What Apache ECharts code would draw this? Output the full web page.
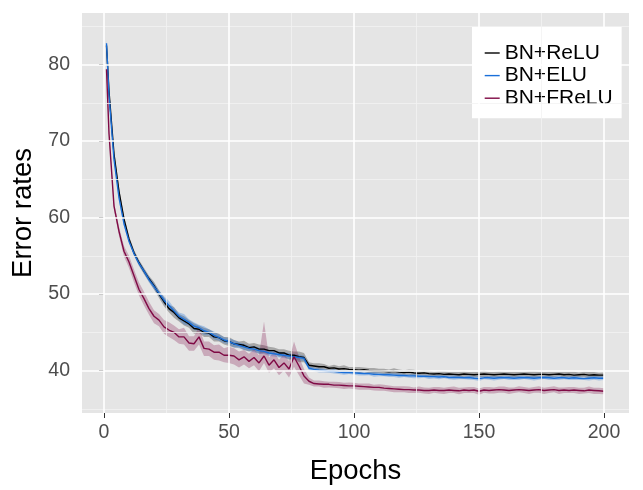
<!DOCTYPE html>
<html><head><meta charset="utf-8">
<script src="https://cdn.jsdelivr.net/npm/echarts@6.0.0/dist/echarts.min.js"></script>
<style>html,body{margin:0;padding:0;background:#fff}#c{width:643px;height:490px}</style>
</head><body><div id="c"></div>
<script>
const epochs = [1,2,4,6,8,10,12,14,16,18,
20,22,24,26,28,30,32,34,36,38,
40,42,44,46,48,50,52,54,56,58,
60,62,64,66,68,70,72,74,76,78,
80,82,84,86,88,90,92,94,96,98,
100,102,104,106,108,110,112,114,116,118,
120,122,124,126,128,130,132,134,136,138,
140,142,144,146,148,150,152,154,156,158,
160,162,164,166,168,170,172,174,176,178,
180,182,184,186,188,190,192,194,196,198,
200];

const relu = [82.5,76.5,68.3,63.4,59.8,57.2,55.4,54.1,53.0,52.0,
51.1,50.0,49.0,48.1,47.6,46.9,46.5,46.1,45.5,45.4,
45.0,44.9,44.4,44.3,43.9,43.8,43.5,43.4,43.3,43.0,
43.1,42.8,42.8,42.6,42.6,42.3,42.3,42.0,42.0,41.8,
41.7,40.7,40.6,40.5,40.5,40.3,40.35,40.2,40.25,40.15,
40.1,40.05,40.1,40.0,39.95,39.95,39.9,39.85,39.9,39.8,
39.75,39.8,39.7,39.65,39.7,39.6,39.55,39.6,39.5,39.55,
39.5,39.45,39.55,39.5,39.45,39.5,39.55,39.5,39.45,39.5,
39.55,39.5,39.45,39.5,39.55,39.5,39.45,39.5,39.5,39.45,
39.5,39.55,39.45,39.5,39.4,39.45,39.5,39.4,39.45,39.4,
39.4];

const elu = [82.8,76.0,67.6,62.6,59.2,56.9,55.3,54.0,53.0,51.9,
51.0,50.1,49.2,48.5,47.8,47.1,46.7,46.3,45.8,45.6,
45.2,45.0,44.6,44.3,44.0,43.8,43.5,43.3,43.1,42.9,
42.8,42.6,42.5,42.3,42.2,42.1,42.0,41.9,41.8,41.7,
41.6,40.3,40.15,40.05,40.0,39.9,39.9,39.8,39.75,39.75,
39.7,39.65,39.6,39.6,39.5,39.5,39.45,39.45,39.4,39.35,
39.35,39.3,39.3,39.25,39.25,39.2,39.2,39.15,39.2,39.1,
39.1,39.1,39.05,39.1,39.0,38.95,39.05,39.05,39.0,39.05,
39.1,39.05,39.0,39.05,39.1,39.05,39.0,39.05,39.1,39.05,
39.0,39.05,39.05,39.0,39.05,39.0,38.95,39.0,39.05,39.0,
39.0];

const frelu = [79.4,71.0,61.5,58.2,55.6,54.2,52.4,50.6,49.4,48.1,
47.1,46.6,45.7,45.3,45.0,44.4,44.4,43.6,43.5,44.4,
42.9,42.8,42.4,42.4,42.0,42.0,41.9,41.4,41.8,41.2,
41.7,41.0,41.9,40.7,41.4,40.4,41.0,40.2,41.8,40.6,
39.3,38.6,38.3,38.25,38.2,38.2,38.1,38.1,38.05,38.0,
38.0,37.95,37.9,37.85,37.8,37.8,37.7,37.65,37.6,37.55,
37.5,37.5,37.45,37.45,37.4,37.4,37.45,37.4,37.4,37.45,
37.4,37.35,37.45,37.4,37.45,37.3,37.45,37.4,37.45,37.5,
37.45,37.4,37.45,37.5,37.45,37.4,37.45,37.5,37.4,37.45,
37.5,37.4,37.45,37.4,37.45,37.4,37.35,37.45,37.4,37.35,
37.3];

// ribbon half-widths (above / below the mean)
const reluSpread = [0.5,0.6,0.5,0.5,0.4,0.4,0.4,0.4,0.4,0.4,
0.5,0.5,0.6,0.5,0.7,0.5,0.6,0.5,0.7,0.5,
0.6,0.5,0.6,0.5,0.5,0.6,0.5,0.4,0.6,0.5,
0.5,0.6,0.5,0.5,0.4,0.5,0.5,0.6,0.5,0.7,
0.6,0.4,0.35,0.45,0.35,0.3,0.4,0.35,0.45,0.3,
0.35,0.4,0.3,0.35,0.4,0.3,0.35,0.3,0.4,0.35,
0.3,0.35,0.4,0.3,0.35,0.4,0.3,0.35,0.45,0.3,
0.35,0.4,0.35,0.3,0.4,0.35,0.45,0.3,0.35,0.4,
0.3,0.35,0.4,0.35,0.3,0.4,0.45,0.35,0.3,0.4,
0.35,0.3,0.4,0.35,0.45,0.3,0.35,0.4,0.35,0.3,
0.35];

const eluSpread = [0.5,0.5,0.4,0.4,0.3,0.3,0.3,0.3,0.35,0.4,
0.4,0.4,0.5,0.6,0.4,0.5,0.7,0.4,0.5,0.4,
0.6,0.4,0.5,0.4,0.4,0.4,0.5,0.4,0.4,0.35,
0.4,0.4,0.35,0.4,0.35,0.4,0.35,0.4,0.35,0.4,
0.35,0.3,0.25,0.3,0.25,0.2,0.3,0.25,0.3,0.2,
0.25,0.3,0.25,0.2,0.3,0.25,0.2,0.3,0.25,0.3,
0.2,0.25,0.3,0.25,0.2,0.3,0.25,0.3,0.2,0.25,
0.3,0.25,0.2,0.3,0.25,0.3,0.2,0.25,0.3,0.25,
0.2,0.3,0.25,0.3,0.2,0.25,0.3,0.25,0.2,0.3,
0.25,0.3,0.2,0.25,0.3,0.25,0.2,0.3,0.25,0.3,
0.25];

const freluUp = [0.4,0.5,0.5,0.6,0.7,0.8,0.8,0.9,0.9,0.9,
0.8,0.8,0.9,1.0,0.9,1.0,1.2,0.9,1.0,1.3,
0.9,1.0,0.9,1.0,0.9,1.1,1.0,1.1,0.9,1.0,
1.1,1.0,4.5,1.0,1.1,1.0,1.2,1.0,2.0,1.2,
0.9,0.5,0.4,0.45,0.4,0.35,0.45,0.4,0.35,0.45,
0.4,0.35,0.4,0.45,0.35,0.4,0.45,0.4,0.35,0.4,
0.45,0.4,0.35,0.45,0.4,0.35,0.4,0.45,0.35,0.4,
0.5,0.4,0.35,0.45,0.4,0.35,0.4,0.45,0.35,0.4,
0.45,0.4,0.35,0.45,0.4,0.35,0.4,0.45,0.35,0.4,
0.45,0.4,0.35,0.45,0.4,0.35,0.4,0.45,0.35,0.4,
0.4];

const freluDown = [0.4,0.5,0.5,0.6,0.7,0.8,0.9,0.8,0.9,0.8,
0.9,0.8,0.9,0.9,1.0,0.9,1.0,1.0,0.9,1.0,
1.0,0.9,1.0,1.1,0.9,1.0,1.1,1.0,1.0,0.9,
1.0,1.1,0.9,1.0,1.1,1.0,1.0,1.1,1.3,1.2,
1.0,0.45,0.4,0.35,0.45,0.4,0.35,0.4,0.45,0.35,
0.4,0.45,0.4,0.35,0.4,0.45,0.35,0.4,0.45,0.4,
0.35,0.45,0.4,0.35,0.4,0.45,0.35,0.4,0.45,0.4,
0.35,0.45,0.4,0.35,0.4,0.45,0.35,0.4,0.45,0.4,
0.35,0.45,0.4,0.35,0.4,0.45,0.35,0.4,0.45,0.4,
0.35,0.45,0.4,0.35,0.4,0.45,0.35,0.4,0.45,0.4,
0.4];

const seriesNames = ['BN+ReLU','BN+ELU','BN+FReLU'];
const xTicks = [0,50,100,150,200];
const xMinor = [25,75,125,175];
const yTicks = [40,50,60,70,80];
const yMinor = [35,45,55,65,75,85];

const FONT = 'Liberation Sans, Arial, sans-serif';
const lineColors = ['#000000','#1a6fd9','#7f0a45'];
const bandColors = ['rgba(0,0,0,0.27)','rgba(26,111,217,0.30)','rgba(127,10,69,0.27)'];

const chart = echarts.init(document.getElementById('c'));

function band(vals, up, down, color) {
  return {
    type: 'custom', coordinateSystem: 'cartesian2d', silent: true, z: 2, clip: true,
    data: [[epochs[0], vals[0]]],
    renderItem: function (params, api) {
      const upper = epochs.map((e, i) => api.coord([e, vals[i] + up[i]]));
      const lower = epochs.map((e, i) => api.coord([e, vals[i] - down[i]])).reverse();
      return { type: 'polygon', shape: { points: upper.concat(lower) }, style: { fill: color } };
    }
  };
}
function line(name, vals, color) {
  return {
    type: 'line', name: name, data: epochs.map((e, i) => [e, vals[i]]),
    showSymbol: false, symbol: 'none', z: 3, color: color,
    lineStyle: { width: 1.4, color: color }, itemStyle: { color: color }
  };
}
const majorStyle = { color: '#ffffff', width: 1.6, type: 'solid' };
const minorStyle = { color: '#f2f2f2', width: 0.8, type: 'solid' };
const gridMarks = [].concat(
  xMinor.map(v => ({ xAxis: v, lineStyle: minorStyle })),
  yMinor.map(v => ({ yAxis: v, lineStyle: minorStyle })),
  xTicks.map(v => ({ xAxis: v, lineStyle: majorStyle })),
  yTicks.map(v => ({ yAxis: v, lineStyle: majorStyle }))
);

const axisCommon = {
  type: 'value', nameLocation: 'middle',
  axisLine: { show: false }, splitLine: { show: false },
  nameTextStyle: { fontSize: 27.5, color: '#000', fontFamily: FONT }
};

chart.setOption({
  animation: false,
  grid: { left: 82, top: 13, width: 547, height: 400, show: true, backgroundColor: '#e5e5e5', borderWidth: 0 },
  xAxis: Object.assign({}, axisCommon, {
    min: -8.8, max: 210, name: 'Epochs', nameGap: 44,
    axisTick: { show: true, customValues: xTicks, length: 5, lineStyle: { color: '#333', width: 1 } },
    axisLabel: { customValues: xTicks, fontSize: 19.5, color: '#4d4d4d', margin: 10, fontFamily: FONT }
  }),
  yAxis: Object.assign({}, axisCommon, {
    min: 34.45, max: 86.75, name: 'Error rates', nameGap: 45,
    axisTick: { show: true, customValues: yTicks, length: 5, lineStyle: { color: '#333', width: 1 } },
    axisLabel: { customValues: yTicks, fontSize: 19.5, color: '#4d4d4d', margin: 12, fontFamily: FONT }
  }),
  legend: {
    data: seriesNames, orient: 'vertical', left: 472, top: 27,
    backgroundColor: '#ffffff', padding: [15, 9, 9, 12],
    itemWidth: 15, itemHeight: 14, itemGap: 0.6,
    lineStyle: { width: 1.4 },
    itemStyle: { opacity: 0 },
    textStyle: { fontSize: 21, color: '#000', fontFamily: FONT, lineHeight: 22 }
  },
  series: [
    { type: 'line', data: [], silent: true, z: 1,
      markLine: { silent: true, symbol: 'none', animation: false, label: { show: false }, data: gridMarks } },
    band(relu, reluSpread, reluSpread, bandColors[0]),
    band(elu, eluSpread, eluSpread, bandColors[1]),
    band(frelu, freluUp, freluDown, bandColors[2]),
    line(seriesNames[0], relu, lineColors[0]),
    line(seriesNames[1], elu, lineColors[1]),
    line(seriesNames[2], frelu, lineColors[2])
  ]
});
</script></body></html>
